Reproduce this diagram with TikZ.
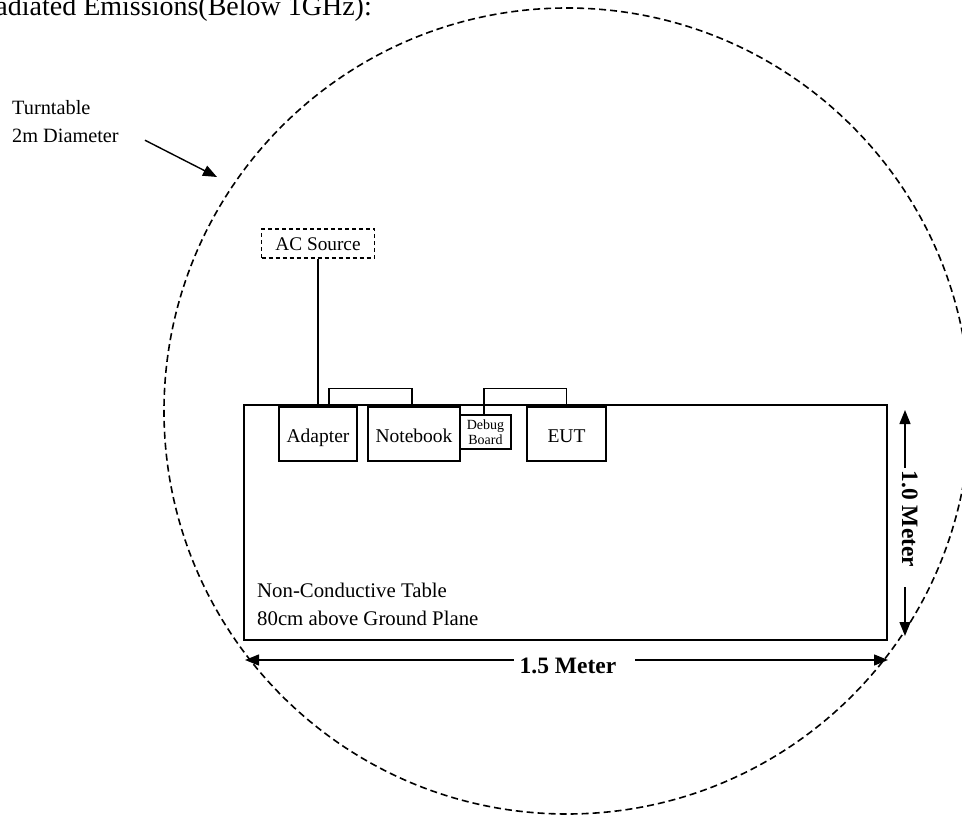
\documentclass[tikz,border=0pt]{standalone}
\usepackage{fontspec}
\setmainfont{Liberation Serif}
\usetikzlibrary{arrows.meta,calc}
\tikzset{
  lbl/.style={inner sep=0pt, font=\fontsize{20.3}{24}\selectfont},
  tbl/.style={inner sep=0pt, font=\fontsize{20.8}{24}\selectfont},
  dev/.style={draw, line width=1.1pt, inner sep=0pt, text height=17pt, text depth=1pt,
              font=\fontsize{19.5}{22}\selectfont},
  dim/.style={inner sep=0pt, font=\fontsize{23.5}{26}\selectfont\bfseries},
  arr/.style={line width=1.4pt, -{Triangle[length=14pt,width=11pt]}},
  wire/.style={line width=1.1pt},
}
\begin{document}
\begin{tikzpicture}[x=1pt,y=-1pt]
\useasboundingbox (0,0) rectangle (962,816);
\fill[white] (0,0) rectangle (962,816);
\clip (0,0) rectangle (962,816);

% title (cut at the left edge as in the reference)
\node[inner sep=0pt, anchor=base east, font=\fontsize{28}{30}\selectfont] (title) at (372,16)
  {Radiated Emissions(Below 1GHz):};

% turntable
\draw[dash pattern=on 7pt off 4pt, line width=1.6pt] (567,411) circle [radius=403pt];
\node[lbl, anchor=base west] (tt1) at (12,114) {Turntable};
\node[lbl, anchor=base west] (tt2) at (12,142.7) {2m Diameter};
\coordinate (ttip) at (217,177);
\draw[arr] ($(tt2.base east)+(26,-2.5)$) -- (ttip);

% table
\node[draw, line width=2.2pt, minimum width=643pt, minimum height=235pt, inner sep=0pt]
  (table) at (565.5,522.5) {};
\node[tbl, anchor=base west] (tx1) at (257,597) {Non-Conductive Table};
\node[tbl, anchor=base west] (tx2) at (257,625) {80cm above Ground Plane};

% devices
\node[dev, minimum width=78pt, minimum height=54pt] (adapter) at (318,434) {Adapter};
\node[dev, minimum width=92pt, minimum height=54pt] (notebook) at (414,434) {Notebook};
\node[draw, line width=1.1pt, inner sep=0pt, minimum width=51pt, minimum height=34pt,
      align=center, font=\fontsize{14}{15.5}\selectfont] (debug) at (485.5,432) {Debug\\Board};
\node[dev, minimum width=79pt, minimum height=54pt] (eut) at (566.5,434) {EUT};

% AC source
\node[draw, dash pattern=on 4pt off 3pt, line width=1.1pt, inner sep=0pt,
      minimum width=113pt, minimum height=29pt, text height=13pt, text depth=0pt,
      font=\fontsize{19.3}{22}\selectfont] (ac) at (318,243.5) {AC Source};
\draw[wire] (ac.south) -- (adapter.north);

% cables
\draw[wire] ($(adapter.north)+(11,0)$) -- ++(0,-18) -| ($(notebook.north)+(-2,0)$);
\draw[wire] ($(debug.north)+(-1.5,0)$) -- ++(0,-26) -| (eut.north);

% dimension 1.5 Meter
\node[dim, anchor=base] (hlen) at (568,673) {1.5 Meter};
\coordinate (hl) at (245,660);
\coordinate (hr) at (888,660);
\draw[arr] ($(hlen.west |- hl)+(-6,0)$) -- (hl);
\draw[arr] ($(hlen.east |- hr)+(19,0)$) -- (hr);

% dimension 1.0 Meter
\node[dim, rotate=-90, anchor=base] (vlen) at (902,519) {1.0 Meter};
\coordinate (vt) at (905,410);
\coordinate (vb) at (905,636);
\draw[arr] ($(vlen.west -| vt)+(0,-3)$) -- (vt);
\draw[arr] ($(vlen.east -| vb)+(0,20)$) -- (vb);
\end{tikzpicture}
\end{document}
